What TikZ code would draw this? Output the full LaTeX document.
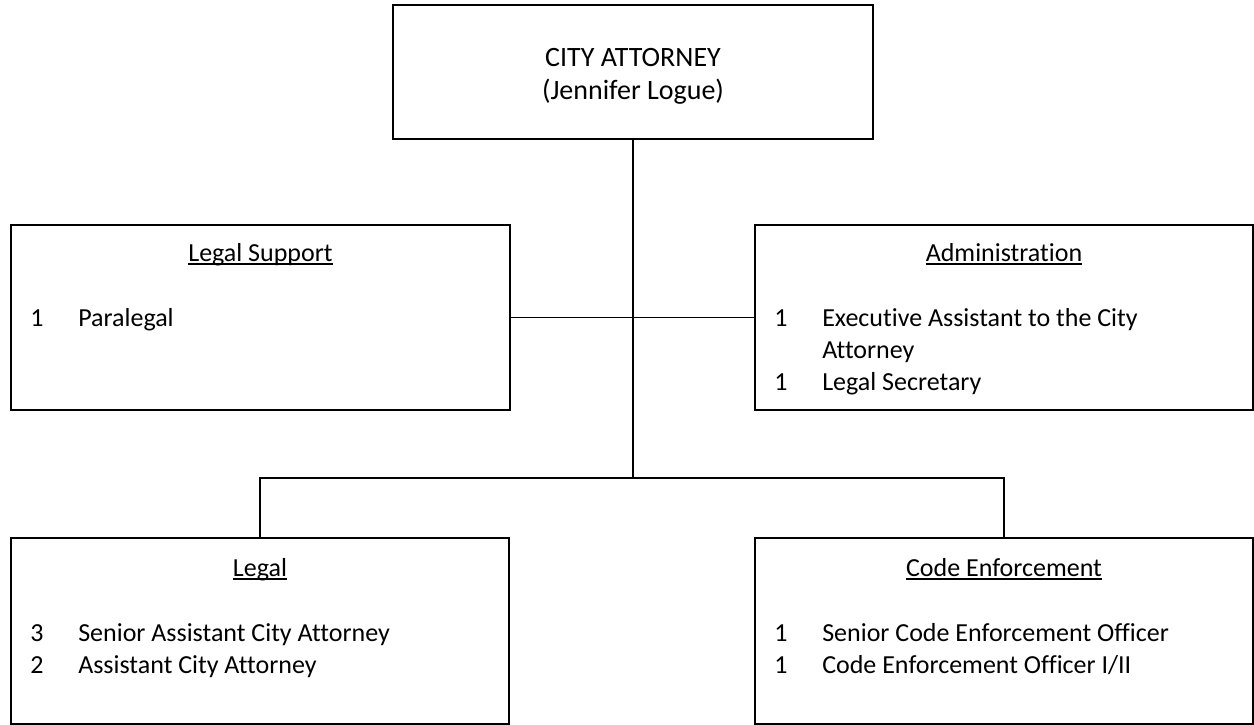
\documentclass[tikz,border=0pt]{standalone}
\usepackage{fontspec}
\setmainfont{Carlito}[Ligatures={NoCommon}]
\newcommand{\hdul}[1]{\setbox0\hbox{#1}\rlap{\rule[-2.7pt]{\wd0}{0.95pt}}\box0}
\begin{document}
\begin{tikzpicture}[x=0.75pt,y=-0.75pt,
  box/.style={draw, line width=1.3pt, rectangle, inner sep=0pt,
    minimum width=374pt, minimum height=139pt},
  conn/.style={line width=1.05pt},
  txt/.style={inner sep=0pt, anchor=base west, font=\fontsize{19.5pt}{23.8pt}\selectfont},
  head/.style={inner sep=0pt, anchor=base, font=\fontsize{19.5pt}{23.8pt}\selectfont},
  title/.style={inner sep=0pt, anchor=base, font=\fontsize{21pt}{25.6pt}\selectfont}]
\useasboundingbox (0,0) rectangle (1254,725);
% boxes
\node[box, minimum width=360pt, minimum height=100.5pt] (ca) at (633,72) {};
\node[box] (ls) at (260.5,317.5) {};
\node[box] (adm) at (1004,317.5) {};
\node[box] (lg) at (260,631) {};
\node[box] (ce) at (1004,631) {};
% connectors
\coordinate (jn) at (633,478);
\draw[conn] (ca.south) -- (jn);
\draw[conn] (ls.east) -- (adm.west);
\draw[conn] (lg.north) |- (jn) -| (ce.north);
% top box text
\node[title] (ca1) at (633,66) {CITY ATTORNEY};
\node[title] (ca2) at (633,99) {(Jennifer Logue)};
% Legal Support
\node[head] (lsh) at (260.5,261) {\hdul{Legal Support}};
\node[txt] (lsn1) at (30,326) {1};
\node[txt] (lst1) at (78,326) {Paralegal};
% Administration
\node[head] (admh) at (1004,261) {\hdul{Administration}};
\node[txt] (admn1) at (774,326) {1};
\node[txt] (admt1) at (822,326) {Executive Assistant to the City};
\node[txt] (admt1b) at (822,358) {Attorney};
\node[txt] (admn2) at (774,390) {1};
\node[txt] (admt2) at (822,390) {Legal Secretary};
% Legal
\node[head] (lgh) at (260,576) {\hdul{Legal}};
\node[txt] (lgn1) at (30,641) {3};
\node[txt] (lgt1) at (78,641) {Senior Assistant City Attorney};
\node[txt] (lgn2) at (30,673) {2};
\node[txt] (lgt2) at (78,673) {Assistant City Attorney};
% Code Enforcement
\node[head] (ceh) at (1004,576) {\hdul{Code Enforcement}};
\node[txt] (cen1) at (774,641) {1};
\node[txt] (cet1) at (822,641) {Senior Code Enforcement Officer};
\node[txt] (cen2) at (774,673) {1};
\node[txt] (cet2) at (822,673) {Code Enforcement Officer I/II};
\end{tikzpicture}
\end{document}
